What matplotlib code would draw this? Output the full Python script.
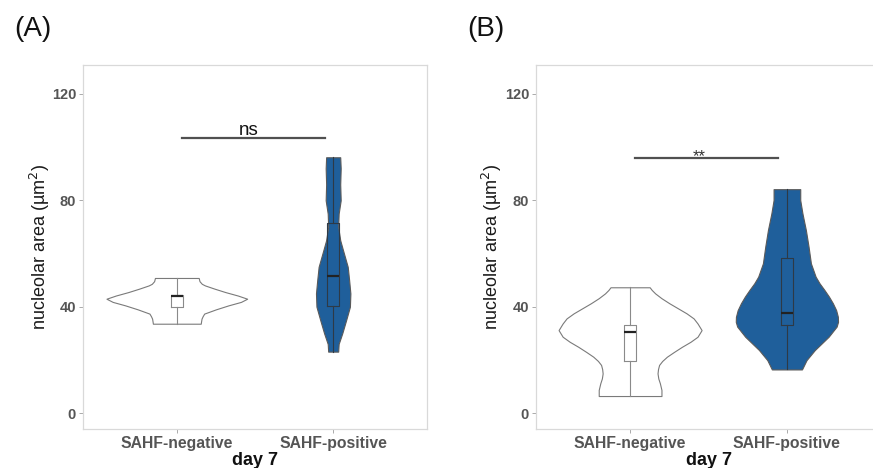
import numpy as np
import matplotlib.pyplot as plt

plt.rcParams['font.family'] = ['Liberation Sans', 'DejaVu Sans']

groups = ['SAHF-negative', 'SAHF-positive']
yticks = [0, 40, 80, 120]
ylabel = 'nucleolar area (µm$^2$)'
xlabel = 'day 7'
blue = '#1f5f9b'

# violin outlines: value -> half width (x units)
a_neg_y = [50.8, 49.6, 48.6, 48.0, 46.8, 45.5, 44.2, 43.0, 41.8, 40.5, 39.0, 37.4, 36.4, 35.5, 34.4, 33.6]
a_neg_w = [0.14, 0.145, 0.16, 0.18, 0.24, 0.31, 0.39, 0.45, 0.41, 0.33, 0.25, 0.175, 0.165, 0.158, 0.155, 0.153]
a_pos_y = [96.2, 92.0, 86.0, 80.0, 75.0, 70.0, 65.0, 61.0, 55.0, 50.0, 45.0, 40.0, 35.0, 30.0, 26.0, 23.1]
a_pos_w = [0.045, 0.048, 0.045, 0.048, 0.035, 0.032, 0.045, 0.064, 0.093, 0.102, 0.11, 0.107, 0.083, 0.058, 0.035, 0.032]
b_neg_y = [47.3, 46.3, 45.0, 43.2, 41.3, 39.4, 37.5, 35.6, 33.7, 31.2, 28.7, 26.8, 24.9, 23.0, 21.2, 19.6, 18.1, 16.5, 14.9, 13.0, 11.2, 8.7, 6.4]
b_neg_w = [0.125, 0.138, 0.16, 0.2, 0.25, 0.305, 0.36, 0.405, 0.43, 0.456, 0.43, 0.385, 0.33, 0.28, 0.235, 0.205, 0.185, 0.178, 0.175, 0.18, 0.19, 0.2, 0.2]
b_pos_y = [84.2, 80.1, 75.1, 68.8, 62.6, 56.3, 51.3, 48.8, 46.3, 43.8, 41.3, 38.7, 36.2, 34.3, 32.5, 28.7, 26.2, 23.7, 19.9, 16.4]
b_pos_w = [0.085, 0.085, 0.099, 0.121, 0.138, 0.153, 0.183, 0.208, 0.239, 0.268, 0.293, 0.314, 0.325, 0.326, 0.317, 0.266, 0.222, 0.178, 0.125, 0.096]

# box stats: low, q1, median, q3, high
a_neg_box = [33.6, 39.8, 44.0, 44.4, 50.8]
a_pos_box = [23.1, 40.3, 51.5, 71.3, 96.2]
b_neg_box = [6.4, 19.7, 30.6, 33.1, 47.3]
b_pos_box = [16.4, 33.1, 37.7, 58.2, 84.2]

panels = [
    dict(tag='(A)', viol=[(a_neg_y, a_neg_w), (a_pos_y, a_pos_w)], boxes=[a_neg_box, a_pos_box],
         sig='ns', sig_y=103.6, sig_x=(1.03, 1.95)),
    dict(tag='(B)', viol=[(b_neg_y, b_neg_w), (b_pos_y, b_pos_w)], boxes=[b_neg_box, b_pos_box],
         sig='**', sig_y=96.1, sig_x=(1.03, 1.94)),
]

fig = plt.figure(figsize=(8.73, 4.68), dpi=100)
rects = [[83/873, 39/468, 344/873, 364/468], [536/873, 39/468, 345/873, 364/468]]
tag_x = [14/873, 467/873]
lab_x = [-0.090, -0.093]

for k, p in enumerate(panels):
    ax = fig.add_axes(rects[k])
    for i, (yy, ww) in enumerate(p['viol']):
        yy = np.array(yy)
        ww = np.array(ww)
        pos = i + 1
        face = 'white' if i == 0 else blue
        edge = '#7a7a7a' if i == 0 else '#5a5a5a'
        ax.fill_betweenx(yy, pos - ww, pos + ww, facecolor=face, edgecolor=edge, linewidth=0.8, zorder=2)
        lo, q1, med, q3, hi = p['boxes'][i]
        st = [dict(med=med, q1=q1, q3=q3, whislo=lo, whishi=hi, fliers=[])]
        lc = '#8a8a8a' if i == 0 else '#2e3a46'
        ax.bxp(st, positions=[pos], widths=0.075, showcaps=False, manage_ticks=False,
               boxprops=dict(color=lc, linewidth=0.8),
               whiskerprops=dict(color=lc, linewidth=0.8),
               medianprops=dict(color='#222222', linewidth=1.6), zorder=3)
    x0, x1 = p['sig_x']
    ax.plot([x0, x1], [p['sig_y'], p['sig_y']], color='#505050', linewidth=1.6, zorder=3)
    if p['sig'] == 'ns':
        ax.text(1.46, p['sig_y'] + 0.8, p['sig'], ha='center', va='baseline', fontsize=13.5, color='#111111')
    else:
        ax.text(1.44, p['sig_y'] - 1.5, p['sig'], ha='center', va='baseline', fontsize=12, color='#333333')

    ax.set_xlim(0.4, 2.6)
    ax.set_ylim(-6.0, 130.9)
    ax.set_xticks([1, 2])
    ax.set_xticklabels(groups, fontsize=11.3, fontweight='bold', color='#555555')
    ax.set_yticks(yticks)
    ax.set_yticklabels([str(v) for v in yticks], fontsize=10.5, fontweight='bold', color='#555555')
    ax.tick_params(length=3, width=0.7, color='#aaaaaa', pad=2)
    for s in ax.spines.values():
        s.set_color('#d9d9d9')
        s.set_linewidth(0.9)
    ax.set_ylabel(ylabel, fontsize=13, color='#1a1a1a')
    ax.yaxis.set_label_coords(lab_x[k], 0.5)
    ax.text(0.5, -0.063, xlabel, transform=ax.transAxes, ha='center', va='top',
            fontsize=13, fontweight='bold', color='#111111')
    fig.text(tag_x[k], 1 - 28.5/468, p['tag'], ha='left', va='center', fontsize=20, color='#111111')

fig.savefig('out.png', dpi=100)
